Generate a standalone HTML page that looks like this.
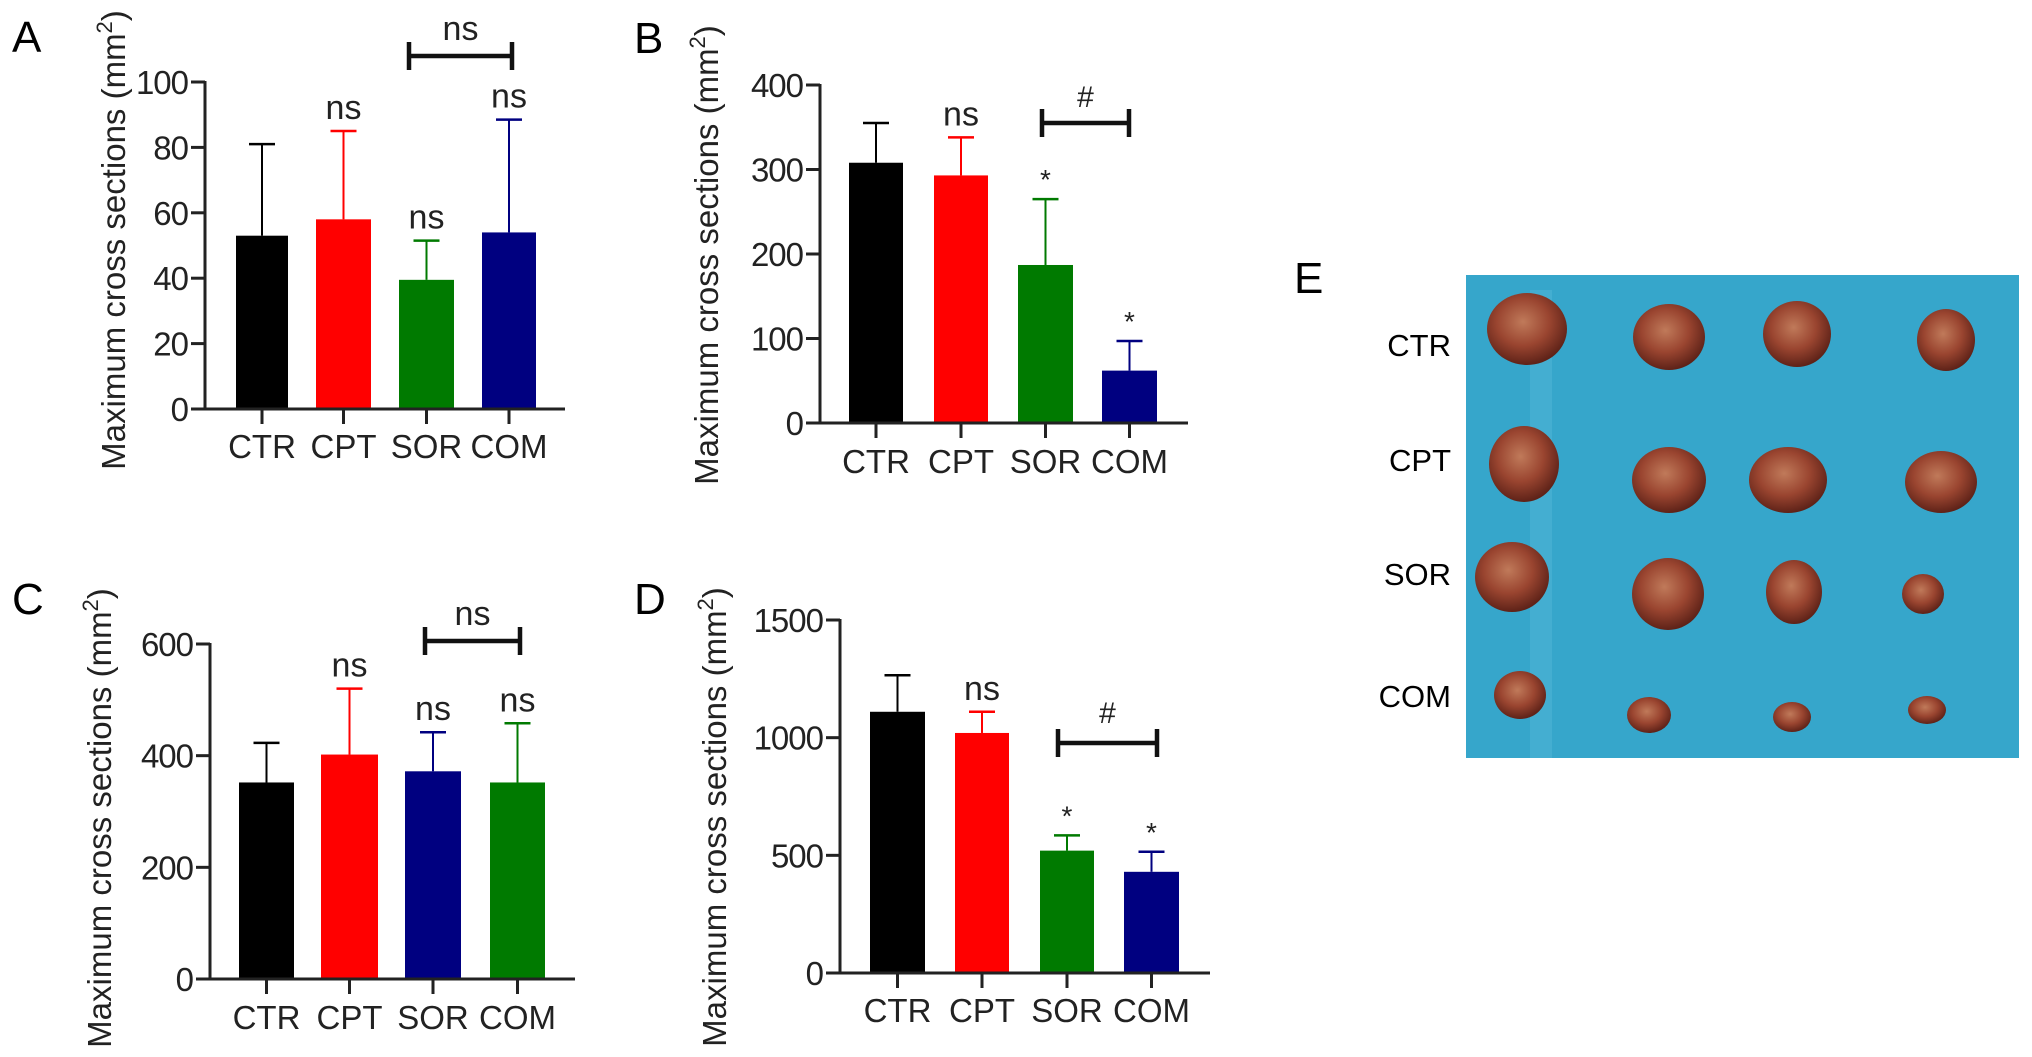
<!DOCTYPE html>
<html><head><meta charset="utf-8"><style>
html,body{margin:0;padding:0;background:#fff;}
svg{display:block;font-family:"Liberation Sans",Arial,sans-serif;}
</style></head><body>
<svg id="fig" width="2032" height="1057" viewBox="0 0 2032 1057" xmlns="http://www.w3.org/2000/svg">
<defs>
<radialGradient id="tum" cx="45%" cy="40%" r="60%">
<stop offset="0%" stop-color="#c07a5a"/><stop offset="55%" stop-color="#9a4530"/><stop offset="100%" stop-color="#5e2218"/>
</radialGradient>
</defs>
<g id="charts"></g>
<g id="photo">
<text x="1294" y="293" font-size="44">E</text>
<rect x="1466" y="275" width="553" height="483" fill="#36a6cb"/>
<rect x="1530" y="290" width="22" height="468" fill="#4fb4d6" opacity="0.6"/>
<text x="1451" y="356" font-size="31" text-anchor="end">CTR</text>
<text x="1451" y="471" font-size="31" text-anchor="end">CPT</text>
<text x="1451" y="585" font-size="31" text-anchor="end">SOR</text>
<text x="1451" y="707" font-size="31" text-anchor="end">COM</text>
</g>
</svg>
<script>
// ---- chart data ----
const categories = ["CTR","CPT","SOR","COM"];
const valuesA = [53, 58, 39.5, 54];
const errorsA = [81, 85, 51.5, 88.5];
const ticksA = [0,20,40,60,80,100];
const valuesB = [308, 293, 187, 62];
const errorsB = [355, 338, 265, 97];
const ticksB = [0,100,200,300,400];
const valuesC = [352, 402, 372, 352];
const errorsC = [423, 520, 442, 458];
const ticksC = [0,200,400,600];
const valuesD = [1110, 1020, 520, 430];
const errorsD = [1265, 1110, 585, 515];
const ticksD = [0,500,1000,1500];
const marksA = ["", "ns", "ns", "ns"];
const marksB = ["", "ns", "*", "*"];
const marksC = ["", "ns", "ns", "ns"];
const marksD = ["", "ns", "*", "*"];

const NS = "http://www.w3.org/2000/svg";
const root = document.getElementById("charts");
function mk(tag, attrs, parent){const e=document.createElementNS(NS,tag);for(const k in attrs)e.setAttribute(k,attrs[k]);parent.appendChild(e);return e;}

const panels = [
 {id:"a",letter:"A",lx:12,ly:52,ax:205,ax2:565,y0:409,ymax:82,max:100,vals:valuesA,errs:errorsA,ticks:ticksA,marks:marksA,
  bars:[[236,288],[316,371],[399,454],[482,536]],colors:["#000","#ff0000","#007a00","#000080"],
  br:{x1:409,x2:512,y:56,lab:"ns",ly:40},cat:458,tx:113,ty:240},
 {id:"b",letter:"B",lx:634,ly:53,ax:820,ax2:1188,y0:423,ymax:85,max:400,vals:valuesB,errs:errorsB,ticks:ticksB,marks:marksB,
  bars:[[849,903],[934,988],[1018,1073],[1102,1157]],colors:["#000","#ff0000","#007a00","#000080"],
  br:{x1:1042,x2:1129,y:123,lab:"#",ly:107},cat:473,tx:706,ty:255},
 {id:"c",letter:"C",lx:12,ly:614,ax:210,ax2:575,y0:979,ymax:644,max:600,vals:valuesC,errs:errorsC,ticks:ticksC,marks:marksC,
  bars:[[239,294],[321,378],[405,461],[490,545]],colors:["#000","#ff0000","#000080","#007a00"],
  br:{x1:425,x2:520,y:641,lab:"ns",ly:625},cat:1029,tx:99,ty:818},
 {id:"d",letter:"D",lx:634,ly:614,ax:840,ax2:1210,y0:973,ymax:620,max:1500,vals:valuesD,errs:errorsD,ticks:ticksD,marks:marksD,
  bars:[[870,925],[955,1009],[1040,1094],[1124,1179]],colors:["#000","#ff0000","#007a00","#000080"],
  br:{x1:1058,x2:1157,y:743,lab:"#",ly:723},cat:1022,tx:714,ty:817}
];

panels.forEach(p=>{
  const g = mk("g",{},root);
  
  
  const yS = v => p.y0 - (v/p.max)*(p.y0-p.ymax);
  const L = mk("text",{x:p.lx,y:p.ly,"font-size":44},g); L.textContent=p.letter;
  
  
  const t = mk("text",{x:0,y:0,"font-size":33,"text-anchor":"middle",fill:"#222",transform:`translate(${p.tx+12},${p.ty}) rotate(-90)`},g);
  
  
  t.innerHTML = 'Maximum cross sections (mm<tspan font-size="22" dy="-13">2</tspan><tspan dy="13">)</tspan>';
  p.vals.forEach((v,i)=>{
    const [x1,x2]=p.bars[i]; const cx=(x1+x2)/2;
    const col=p.colors[i];
    const eb = mk("line",{x1:cx,x2:cx,y1:yS(v),y2:yS(p.errs[i]),stroke:col,"stroke-width":2},g);
    
    
    const cap = mk("line",{x1:cx-13,x2:cx+13,y1:yS(p.errs[i]),y2:yS(p.errs[i]),stroke:col,"stroke-width":2.5},g);
    
    
    const r = mk("rect",{x:x1,y:yS(v),width:x2-x1,height:p.y0-yS(v),fill:col},g);
    
    
    const tk = mk("line",{x1:cx,x2:cx,y1:p.y0,y2:p.y0+15,stroke:"#222","stroke-width":3},g);
    
    
    const cl = mk("text",{x:cx,y:p.cat,"font-size":33,"text-anchor":"middle",fill:"#222"},g);
    cl.textContent=categories[i];
    
    
    if(p.marks[i]){
      const star = p.marks[i]==="*";
      const m = mk("text",{x:cx,y:yS(p.errs[i])-(star?10:12),"font-size":star?28:34,"text-anchor":"middle",fill:"#222"},g);
      m.textContent=p.marks[i];
      
      
    }
  });
  const ya = mk("line",{x1:p.ax,x2:p.ax,y1:p.ymax-1,y2:p.y0+1.5,stroke:"#222","stroke-width":3},g);
  
  
  const xa = mk("line",{x1:p.ax-14,x2:p.ax2,y1:p.y0,y2:p.y0,stroke:"#222","stroke-width":3},g);
  
  
  p.ticks.forEach(v=>{
    const tl = mk("line",{x1:p.ax-14,x2:p.ax,y1:yS(v),y2:yS(v),stroke:"#222","stroke-width":3},g);
    
    
    const tt = mk("text",{x:p.ax-17,y:yS(v)+12,"font-size":33,"text-anchor":"end",fill:"#222","letter-spacing":"-1"},g);
    tt.textContent=v;
    
    
  });
  const b=p.br;
  const bl = mk("path",{d:`M${b.x1} ${b.y-14}V${b.y+14}M${b.x1} ${b.y}H${b.x2}M${b.x2} ${b.y-14}V${b.y+14}`,stroke:"#111","stroke-width":4.5,fill:"none"},g);
  
  
  const bt = mk("text",{x:(b.x1+b.x2)/2,y:b.ly,"font-size":b.lab==="#"?30:34,"text-anchor":"middle",fill:"#222"},g);
  bt.textContent=b.lab;
  
  
});

const tumorRows = [
 [[1527,329,40,36],[1669,337,36,33],[1797,334,34,33],[1946,340,29,31]],
 [[1524,464,35,38],[1669,480,37,33],[1788,480,39,33],[1941,482,36,31]],
 [[1512,577,37,35],[1668,594,36,36],[1794,592,28,32],[1923,594,21,20]],
 [[1520,695,26,24],[1649,715,22,18],[1792,717,19,15],[1927,710,19,14]]
];
const photo=document.getElementById("photo");
tumorRows.forEach((row,ri)=>row.forEach((t,ci)=>{
  const e=mk("ellipse",{cx:t[0],cy:t[1],rx:t[2],ry:t[3],fill:"url(#tum)"},photo);
  
  
}));
</script>
</body></html>
